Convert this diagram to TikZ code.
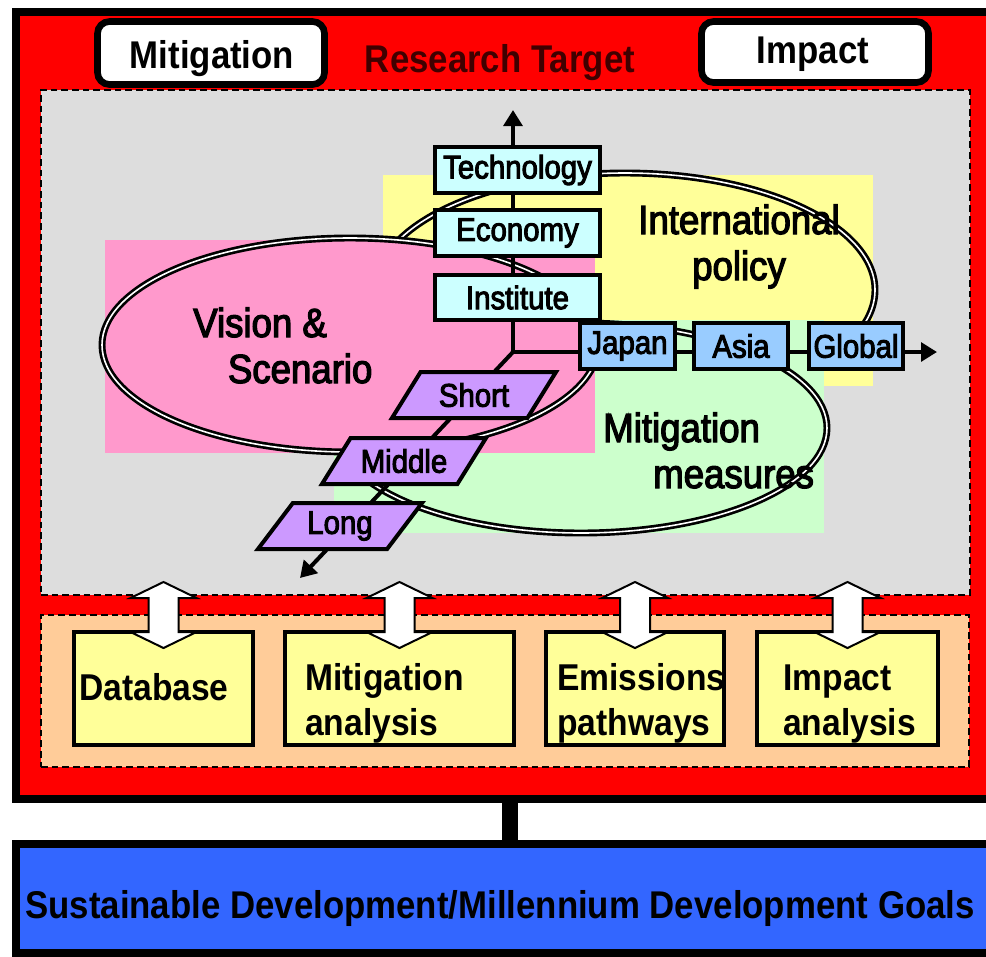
\documentclass[tikz,border=0pt]{standalone}
\usepackage{fontspec}
\setmainfont{Liberation Sans}
\newfontfamily\midfont{Liberation Sans}[FakeStretch=0.9,FakeBold=3]
\newfontfamily\cfont{Liberation Sans}[FakeStretch=0.9]
\usetikzlibrary{shapes.geometric,arrows.meta}
\newcommand\pxu[1]{#1*0.75pt}
\definecolor{cred}{HTML}{FF0000}
\definecolor{cgray}{HTML}{DDDDDD}
\definecolor{corange}{HTML}{FFCC99}
\definecolor{cyellow}{HTML}{FFFF99}
\definecolor{cpink}{HTML}{FF99CC}
\definecolor{cgreen}{HTML}{CCFFCC}
\definecolor{ccyan}{HTML}{CCFFFF}
\definecolor{cblue}{HTML}{99CCFF}
\definecolor{cviolet}{HTML}{CC99FF}
\definecolor{cgoal}{HTML}{3366FF}
\definecolor{ctarget}{HTML}{400000}
\tikzset{
  outerbox/.style={draw=black, line width=6pt, fill=cred, inner sep=0pt},
  dashbox/.style={draw=black, line width=1.5pt, dash pattern=on 5pt off 3pt, inner sep=0pt},
  tagbox/.style={draw=black, line width=5pt, fill=white, rounded corners=9pt, inner sep=0pt},
  bigbold/.style={inner sep=0pt, font=\cfont\bfseries\fontsize{29}{33.75}\selectfont},
  btext/.style={inner sep=0pt, font=\cfont\bfseries\fontsize{28}{33.75}\selectfont},
  area/.style={inner sep=0pt, draw=none},
  ell/.style={draw=black, line width=2pt, double=white, double distance=1.2pt},
  elltext/.style={inner sep=0pt, font=\midfont\fontsize{30.5}{34.5}\selectfont},
  cbox/.style={draw=black, line width=3pt, inner sep=0pt, font=\midfont\fontsize{24.5}{28}\selectfont},
  para/.style={trapezium, trapezium left angle=40, trapezium right angle=140,
    trapezium stretches body, draw=black, line width=3pt, fill=cviolet, inner sep=0pt,
    minimum height=\pxu{46}, minimum width=\pxu{164}, font=\midfont\fontsize{24.5}{28}\selectfont},
  conn/.style={draw=black, line width=3pt},
  bigtip/.tip={Triangle[length=12pt,width=14pt]},
  ybox/.style={draw=black, line width=3pt, fill=cyellow, inner sep=0pt},
  warrow/.style={draw=black, line width=1.5pt, fill=white, line join=miter},
  goalbox/.style={draw=black, line width=6pt, fill=cgoal, inner sep=0pt},
}
\newcommand\wdarrow[1]{%
  \filldraw[warrow] (#1.north) ++(0,-48) -- ++(33,16) -- ++(-18,0) -- ++(0,34)
    -- ++(18,0) -- ++(-33,16) -- ++(-33,-16) -- ++(18,0) -- ++(0,-34) -- ++(-18,0) -- cycle;}
\begin{document}
\begin{tikzpicture}[x=0.75pt,y=-0.75pt]
\useasboundingbox (0,0) rectangle (986,957);
\clip (0,0) rectangle (986,957);
% outer research frame
\node[outerbox, minimum width=\pxu{984}, minimum height=\pxu{787}] (outer) at (508,405.5) {};
\node[tagbox, minimum width=\pxu{227}, minimum height=\pxu{63}] (mitbox) at (211,53) {};
\node[tagbox, minimum width=\pxu{227}, minimum height=\pxu{61}] (impbox) at (815,52) {};
\node[bigbold, anchor=base] (mitlbl) at (212,68) {Mitigation};
\node[bigbold, anchor=base] (implbl) at (813,63) {Impact};
\node[bigbold, anchor=base, text=ctarget] (target) at (500,72) {Research Target};
\node[dashbox, fill=cgray, minimum width=\pxu{929}, minimum height=\pxu{505}] (gray) at (505.5,342.5) {};
\node[dashbox, fill=corange, minimum width=\pxu{928}, minimum height=\pxu{152}] (orange) at (505,691) {};
% coloured areas, each with its ellipse
\node[area, fill=cyellow, minimum width=\pxu{490}, minimum height=\pxu{211}] (yarea) at (628,280.5) {};
\draw[ell] (625,290) ellipse [x radius=187.5pt, y radius=87.75pt];
\node[area, fill=cgreen, minimum width=\pxu{490}, minimum height=\pxu{213}] (garea) at (579,426.5) {};
\draw[ell] (581,428) ellipse [x radius=184.5pt, y radius=78.75pt];
\node[area, fill=cpink, minimum width=\pxu{490}, minimum height=\pxu{213}] (parea) at (350,346.5) {};
\draw[ell] (350,345) ellipse [x radius=186pt, y radius=80.25pt];
\node[elltext, anchor=base west, align=left] (vision) at (193,383) {Vision \&\\\hspace*{26pt}Scenario};
\node[elltext, anchor=base, align=center] (intl) at (739,280) {International\\policy};
\node[elltext, anchor=base west, align=left] (mitm) at (603,488) {Mitigation\\\hspace*{37.5pt}measures};
% axes
\coordinate (J) at (513,352);
\coordinate (ttip) at (513,110);
\coordinate (rtip) at (937,352);
\coordinate (dtip) at (300,578);
\draw[conn, {bigtip}-{bigtip}] (ttip) -- (J) -- (rtip);
\draw[conn, -{bigtip}] (J) -- (dtip);
\node[cbox, fill=ccyan, minimum width=\pxu{165}, minimum height=\pxu{46}] (tech) at (517.5,170) {Technology};
\node[cbox, fill=ccyan, minimum width=\pxu{165}, minimum height=\pxu{46}] (econ) at (517.5,233) {Economy};
\node[cbox, fill=ccyan, minimum width=\pxu{165}, minimum height=\pxu{45}] (inst) at (517.5,297.5) {Institute};
\node[cbox, fill=cblue, minimum width=\pxu{95}, minimum height=\pxu{46}] (japan) at (627.5,346) {Japan};
\node[cbox, fill=cblue, minimum width=\pxu{94}, minimum height=\pxu{46}] (asia) at (741,346) {Asia};
\node[cbox, fill=cblue, minimum width=\pxu{94}, minimum height=\pxu{46}] (global) at (856,346) {Global};
\node[para] (short) at (474,395) {Short};
\node[para] (middle) at (404,461) {Middle};
\node[para] (long) at (340,526) {Long};
% analysis boxes
\node[ybox, minimum width=\pxu{179}, minimum height=\pxu{113}] (db) at (163.5,688.5) {};
\node[ybox, minimum width=\pxu{229}, minimum height=\pxu{113}] (mitan) at (399.5,688.5) {};
\node[ybox, minimum width=\pxu{178}, minimum height=\pxu{113}] (emis) at (635,688.5) {};
\node[ybox, minimum width=\pxu{181}, minimum height=\pxu{113}] (impan) at (847.5,688.5) {};
\node[btext, anchor=base west] (dbl) at (79,700) {Database};
\node[btext, anchor=base west, align=left] (mital) at (305,735) {Mitigation\\analysis};
\node[btext, anchor=base west, align=left] (emisl) at (557,735) {Emissions\\pathways};
\node[btext, anchor=base west, align=left] (impal) at (783,735) {Impact\\analysis};
\wdarrow{db}
\wdarrow{mitan}
\wdarrow{emis}
\wdarrow{impan}
% goals
\node[goalbox, minimum width=\pxu{984}, minimum height=\pxu{109}] (goal) at (508,898.5) {};
\node[bigbold, anchor=base] (goall) at (500,918) {Sustainable Development/Millennium Development Goals};
\coordinate (barx) at (510,0);
\draw[line width=12pt] (outer.south -| barx) -- (goal.north -| barx);
\end{tikzpicture}
\end{document}
